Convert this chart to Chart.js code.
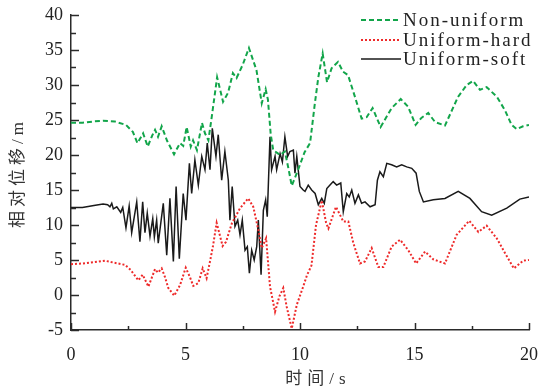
<!DOCTYPE html>
<html>
<head>
<meta charset="utf-8">
<script src="https://cdn.jsdelivr.net/npm/chart.js@4"></script>
<style>
html,body{margin:0;padding:0;background:#fff;}
#wrap{width:540px;height:392px;}
</style>
</head>
<body>
<div id="wrap"><canvas id="c" width="540" height="392"></canvas></div>
<script>
// ---- data ----
const seriesLabels = ["Non-uniform", "Uniform-hard", "Uniform-soft"];
const xTickLabels = [0, 5, 10, 15, 20];
const yTickLabels = [-5, 0, 5, 10, 15, 20, 25, 30, 35, 40];
const xTitle = "时间/s";
const yTitle = "相对位移/m";

const nonUniformT = [0,0.5,1.0,1.4,1.9,2.4,2.7,2.9,3.15,3.35,3.55,3.67,3.8,3.96,4.2,4.5,4.76,4.9,5.05,5.23,5.33,5.5,5.72,5.85,6.0,6.14,6.38,6.64,6.86,7.07,7.23,7.5,7.77,8.1,8.33,8.5,8.6,8.72,8.83,9.0,9.13,9.34,9.5,9.64,9.92,10.2,10.44,10.65,10.8,10.99,11.18,11.38,11.66,11.88,12.1,12.4,12.69,12.91,13.17,13.52,14.0,14.4,14.72,15.05,15.3,15.6,15.9,16.33,16.9,17.28,17.56,17.86,18.15,18.6,18.95,19.24,19.46,19.74,20.0];
const nonUniformY = [24.6,24.6,24.8,24.9,24.8,24.3,23.3,21.7,23.1,21.2,22.8,23.6,22.6,24.1,22.0,20.1,21.7,21.3,24.0,21.2,22.1,20.7,24.6,23.1,22.1,25.3,31.1,27.6,28.9,31.7,31.0,32.9,35.3,32.1,27.4,29.4,27.9,23.0,20.7,20.3,20.0,20.5,18.0,15.6,17.9,20.4,21.7,27.4,31.1,34.5,30.4,32.4,33.3,31.9,31.4,28.3,25.2,25.4,26.7,24.0,26.7,28.0,26.9,24.3,25.3,26.0,24.7,24.2,28.3,30.0,30.6,29.3,29.7,28.3,26.4,24.3,23.7,24.1,24.3];

const uniformHardT = [0,0.5,1.0,1.48,1.9,2.36,2.6,2.94,3.13,3.38,3.67,3.8,3.96,4.1,4.25,4.51,4.76,5.01,5.2,5.34,5.56,5.75,5.92,6.07,6.2,6.36,6.62,6.77,7.02,7.38,7.74,7.96,8.18,8.33,8.52,8.69,8.91,9.1,9.27,9.42,9.64,9.86,10.14,10.3,10.5,10.7,10.95,11.14,11.24,11.57,11.89,12.11,12.33,12.62,12.84,13.13,13.42,13.64,14.0,14.37,14.73,15.07,15.46,15.82,16.33,16.84,17.39,17.79,18.15,18.59,18.95,19.34,19.75,20];
const uniformHardY = [4.4,4.5,4.7,4.9,4.6,4.3,3.6,2.1,2.9,1.2,3.7,3.2,3.8,2.6,1.0,-0.1,1.4,3.9,2.5,1.3,1.7,3.8,2.4,4.8,7.0,10.3,7.0,7.6,10.2,12.4,13.8,12.6,9.3,6.7,8.1,1.2,-2.4,-0.2,1.0,-1.7,-4.8,-1.4,1.2,2.8,4.2,10.0,13.5,10.3,9.5,12.6,10.5,10.5,7.4,4.5,4.8,6.7,4.0,4.0,6.9,7.9,6.4,4.5,6.2,5.1,4.5,8.6,10.6,9.0,9.9,8.1,6.0,3.8,4.9,5.0];

const uniformSoftT = [0,0.5,1.0,1.4,1.6,1.7,1.78,1.85,2.0,2.17,2.26,2.4,2.54,2.65,2.87,3.01,3.13,3.23,3.33,3.45,3.57,3.64,3.74,3.81,4.03,4.18,4.32,4.47,4.59,4.73,4.9,5.02,5.17,5.27,5.41,5.56,5.71,5.85,5.95,6.07,6.17,6.33,6.43,6.58,6.72,6.87,6.94,7.04,7.16,7.28,7.38,7.48,7.6,7.7,7.79,7.89,8.0,8.11,8.18,8.3,8.4,8.5,8.57,8.69,8.76,8.91,8.98,9.13,9.23,9.34,9.46,9.56,9.71,9.78,9.86,10.0,10.14,10.22,10.36,10.51,10.66,10.8,10.95,11.06,11.17,11.31,11.45,11.6,11.78,11.89,12.04,12.15,12.26,12.4,12.55,12.69,12.84,13.06,13.28,13.38,13.49,13.64,13.79,14.0,14.22,14.44,14.66,14.88,15.07,15.21,15.39,15.82,16.33,16.91,17.42,17.93,18.37,19.03,19.6,20];
const uniformSoftY = [12.5,12.5,12.8,13.0,12.9,12.6,13.1,12.3,12.6,11.8,12.5,9.6,12.7,8.9,13.3,7.6,13.3,8.9,11.7,8.4,10.9,8.3,10.7,7.4,13.1,5.7,13.8,4.8,15.5,5.2,14.5,10.7,18.8,14.5,19.3,15.7,19.8,17.9,21.7,17.9,23.8,19.8,22.9,16.4,20.5,16.4,10.7,15.5,9.8,10.7,8.6,10.7,6.4,6.9,3.1,6.4,5.0,6.9,10.7,2.9,12.1,13.6,11.2,22.6,17.9,19.8,17.9,20.2,19.0,22.6,19.8,20.5,20.7,17.4,19.8,15.5,15.0,14.8,15.7,15.0,14.5,12.9,13.8,13.1,15.2,15.7,16.2,15.7,16.0,11.9,14.5,14.0,15.0,13.1,14.3,13.1,13.3,12.6,12.9,16.4,17.6,16.9,18.8,18.6,18.3,18.6,18.3,18.1,17.4,14.8,13.3,13.6,13.8,14.8,13.8,11.9,11.4,12.4,13.7,14.0];

function pts(ts, ys){ return ts.map((t,i)=>({x:t, y:ys[i]})); }

const SERIF = "'Liberation Serif','Times New Roman','Noto Sans CJK SC',serif";
const AXIS_COLOR = '#2a2a2a';

// inward ticks, axis titles and legend
const decor = {
  id: 'decor',
  afterDraw(chart){
    const ctx = chart.ctx;
    const xs = chart.scales.x, ys = chart.scales.y;
    const a = chart.chartArea;
    ctx.save();
    ctx.strokeStyle = AXIS_COLOR;
    ctx.lineWidth = 1.5;
    for (let v = ys.min; v <= ys.max + 1e-9; v += 2.5) {
      const major = Math.abs(v/5 - Math.round(v/5)) < 1e-6;
      const py = Math.round(ys.getPixelForValue(v)) + 0.5;
      ctx.beginPath();
      ctx.moveTo(a.left, py);
      ctx.lineTo(a.left + (major ? 8 : 5), py);
      ctx.stroke();
    }
    for (let v = xs.min; v <= xs.max + 1e-9; v += 2.5) {
      const major = Math.abs(v/5 - Math.round(v/5)) < 1e-6;
      const px = Math.round(xs.getPixelForValue(v)) + 0.5;
      ctx.beginPath();
      ctx.moveTo(px, a.bottom);
      ctx.lineTo(px, a.bottom - (major ? 7 : 4));
      ctx.stroke();
    }
    ctx.fillStyle = '#333';
    ctx.textBaseline = 'middle';
    ctx.textAlign = 'center';
    ctx.font = "17px " + SERIF;
    ctx.letterSpacing = '5px';
    ctx.fillText(xTitle, 318, 380);
    ctx.save();
    ctx.translate(19, 175);
    ctx.rotate(-Math.PI/2);
    ctx.font = "17px " + SERIF;
    ctx.letterSpacing = '4px';
    ctx.fillText(yTitle, 2, 0);
    ctx.restore();
    ctx.font = "19px " + SERIF;
    ctx.letterSpacing = '2px';
    ctx.textAlign = 'left';
    const rows = [20, 40, 59];
    chart.data.datasets.forEach((ds, i) => {
      const y = rows[i];
      ctx.strokeStyle = ds.borderColor;
      ctx.lineWidth = ds.borderWidth;
      ctx.setLineDash(ds.borderDash || []);
      ctx.beginPath();
      ctx.moveTo(361, y);
      ctx.lineTo(401, y);
      ctx.stroke();
      ctx.setLineDash([]);
      ctx.fillStyle = '#222';
      ctx.fillText(ds.label, 403, y + 1);
    });
    ctx.restore();
  }
};

new Chart(document.getElementById('c'), {
  type: 'line',
  data: {
    datasets: [
      { label: seriesLabels[0], data: pts(nonUniformT, nonUniformY), borderColor: '#12a54a', borderWidth: 2, borderDash: [5,3], pointRadius: 0, tension: 0 },
      { label: seriesLabels[1], data: pts(uniformHardT, uniformHardY), borderColor: '#ee2a2a', borderWidth: 2, borderDash: [2,2], pointRadius: 0, tension: 0 },
      { label: seriesLabels[2], data: pts(uniformSoftT, uniformSoftY), borderColor: '#1a1a1a', borderWidth: 1.5, pointRadius: 0, tension: 0 }
    ]
  },
  options: {
    responsive: false,
    animation: false,
    layout: { padding: { left: 0, right: 0, top: 15, bottom: 0 } },
    plugins: { legend: { display: false }, tooltip: { enabled: false } },
    scales: {
      x: {
        type: 'linear', min: 0, max: 20,
        afterBuildTicks(s){ s.ticks = xTickLabels.map(v => ({value: v})); },
        afterFit(s){ s.height = 62; s.paddingRight = 11; },
        ticks: { font: { family: SERIF, size: 18 }, color: '#222', padding: 14, maxRotation: 0 },
        grid: { display: true, drawOnChartArea: false, drawTicks: false },
        border: { display: true, color: AXIS_COLOR, width: 1.5 }
      },
      y: {
        min: -5, max: 40,
        afterBuildTicks(s){ s.ticks = yTickLabels.map(v => ({value: v})); },
        afterFit(s){ s.width = 71; s.paddingTop = 0; },
        ticks: { font: { family: SERIF, size: 18 }, color: '#222', padding: 8 },
        grid: { display: true, drawOnChartArea: false, drawTicks: false },
        border: { display: true, color: AXIS_COLOR, width: 1.5 }
      }
    }
  },
  plugins: [decor]
});
</script>
</body>
</html>
